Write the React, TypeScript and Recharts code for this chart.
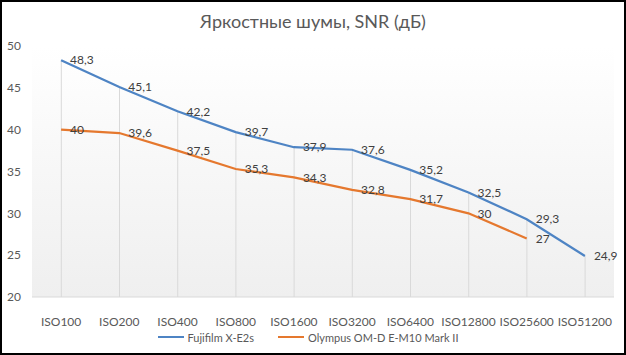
import React from 'react'
import {
  ComposedChart,
  Line,
  Bar,
  XAxis,
  YAxis,
  CartesianGrid,
  Legend,
  LabelList,
} from 'recharts'

const categories = [
  'ISO100',
  'ISO200',
  'ISO400',
  'ISO800',
  'ISO1600',
  'ISO3200',
  'ISO6400',
  'ISO12800',
  'ISO25600',
  'ISO51200',
]
const fujiValues = [48.3, 45.1, 42.2, 39.7, 37.9, 37.6, 35.2, 32.5, 29.3, 24.9]
const olympusValues: (number | null)[] = [40, 39.6, 37.5, 35.3, 34.3, 32.8, 31.7, 30, 27, null]
const yTicks = [20, 25, 30, 35, 40, 45, 50]

const FUJI = '#4e84c4'
const OLY = '#e5782e'
const FONT = 'Lato, "Open Sans", sans-serif'

const data = categories.map((iso, i) => ({
  iso,
  fuji: fujiValues[i],
  oly: olympusValues[i],
  drop: Math.max(fujiValues[i], olympusValues[i] ?? 0),
}))

const fmt = (v: any) => (v == null ? '' : String(v).replace('.', ','))

// drop line from the top point of each category down to the axis
const DropLine = (props: any) => {
  const { x, y, width, height } = props
  const cx = x + width / 2
  return <line x1={cx} y1={y} x2={cx} y2={y + height} stroke="#d9d9d9" strokeWidth={1} />
}

const LegendContent = () => (
  <div
    style={{
      display: 'flex',
      justifyContent: 'center',
      alignItems: 'center',
      fontFamily: FONT,
      fontSize: 11,
      color: '#595959',
      height: 20,
    }}
  >
    <span style={{ display: 'inline-block', width: 26, height: 2, background: FUJI, marginRight: 4 }} />
    <span style={{ marginRight: 24 }}>Fujifilm X-E2s</span>
    <span style={{ display: 'inline-block', width: 26, height: 2, background: OLY, marginRight: 4 }} />
    <span>Olympus OM-D E-M10 Mark II</span>
  </div>
)

const App = () => {
  return (
    <div
      style={{
        position: 'absolute',
        left: 0,
        top: 0,
        width: 626,
        height: 355,
        boxSizing: 'border-box',
        border: '2px solid #000',
        background: '#fff',
      }}
    >
      <div
        style={{
          position: 'absolute',
          top: 8,
          left: 0,
          width: 622,
          textAlign: 'center',
          fontFamily: FONT,
          fontSize: 18,
          color: '#595959',
        }}
      >
        Яркостные шумы, SNR (дБ)
      </div>
      <ComposedChart
        width={622}
        height={351}
        data={data}
        margin={{ top: 44, right: 10, left: 0, bottom: 6 }}
      >
        <defs>
          <linearGradient id="plotBg" x1="0" y1="0" x2="0" y2="1">
            <stop offset="0%" stopColor="#ffffff" />
            <stop offset="100%" stopColor="#efefef" />
          </linearGradient>
        </defs>
        <CartesianGrid horizontal={false} vertical={false} fill="url(#plotBg)" />
        <XAxis
          dataKey="iso"
          height={30}
          tickLine={false}
          tickSize={0}
          tickMargin={20}
          axisLine={{ stroke: '#d9d9d9' }}
          tick={{ fontFamily: FONT, fontSize: 12, fill: '#595959' }}
          interval={0}
        />
        <YAxis
          width={30}
          domain={[20, 50]}
          ticks={yTicks}
          allowDataOverflow
          axisLine={false}
          tickLine={false}
          tickSize={0}
          tickMargin={11}
          tick={{ fontFamily: FONT, fontSize: 12, fill: '#595959' }}
        />
        <Legend verticalAlign="bottom" height={20} content={<LegendContent />} />
        <Bar dataKey="drop" shape={DropLine} isAnimationActive={false} legendType="none" />
        <Line
          type="linear"
          dataKey="fuji"
          name="Fujifilm X-E2s"
          stroke={FUJI}
          strokeWidth={2.25}
          dot={false}
          isAnimationActive={false}
        >
          <LabelList
            dataKey="fuji"
            position="right"
            offset={9}
            formatter={fmt}
            style={{ fontFamily: FONT, fontSize: 12, fill: '#404040' }}
          />
        </Line>
        <Line
          type="linear"
          dataKey="oly"
          name="Olympus OM-D E-M10 Mark II"
          stroke={OLY}
          strokeWidth={2.25}
          dot={false}
          connectNulls={false}
          isAnimationActive={false}
        >
          <LabelList
            dataKey="oly"
            position="right"
            offset={9}
            formatter={fmt}
            style={{ fontFamily: FONT, fontSize: 12, fill: '#404040' }}
          />
        </Line>
      </ComposedChart>
    </div>
  )
}

export default App
